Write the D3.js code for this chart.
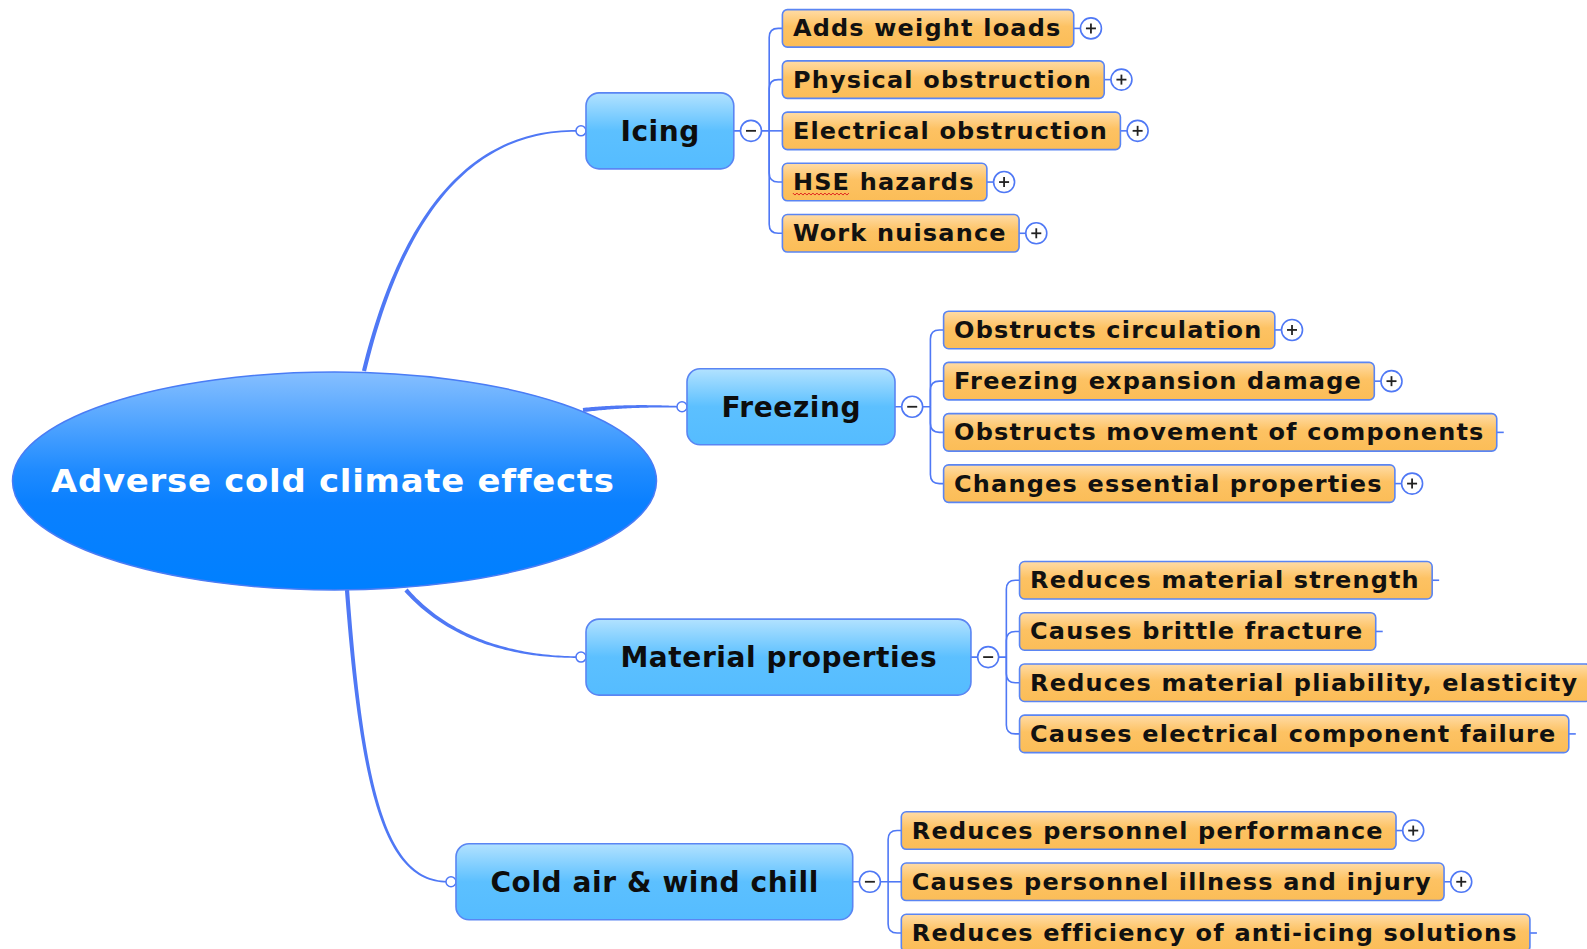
<!DOCTYPE html>
<html><head><meta charset="utf-8">
<script src="https://cdn.jsdelivr.net/npm/d3@7"></script>
<style>
html,body{margin:0;padding:0;background:#fff;}
svg{display:block;}
text{font-family:"DejaVu Sans",Verdana,sans-serif;font-weight:bold;}
</style></head>
<body>
<svg id="chart" width="1587" height="949"></svg>
<script>
// ---------- data ----------
const rootLabel = "Adverse cold climate effects";
const topics = ["Icing", "Freezing", "Material properties", "Cold air & wind chill"];
const icingItems = ["Adds weight loads", "Physical obstruction", "Electrical obstruction", "HSE hazards", "Work nuisance"];
const icingPlus = [true, true, true, true, true];
const freezingItems = ["Obstructs circulation", "Freezing expansion damage", "Obstructs movement of components", "Changes essential properties"];
const freezingPlus = [true, true, false, true];
const materialItems = ["Reduces material strength", "Causes brittle fracture", "Reduces material pliability, elasticity", "Causes electrical component failure"];
const materialPlus = [false, false, false, false];
const coldItems = ["Reduces personnel performance", "Causes personnel illness and injury", "Reduces efficiency of anti-icing solutions"];
const coldPlus = [true, true, false];
const spellFlag = ["HSE"];

// ---------- layout ----------
const W = 1587, H = 949;
const svg = d3.select("#chart");
const defs = svg.append("defs");

function vGrad(id, stops) {
  const g = defs.append("linearGradient").attr("id", id).attr("x1", 0).attr("y1", 0).attr("x2", 0).attr("y2", 1);
  stops.forEach(s => g.append("stop").attr("offset", s[0]).attr("stop-color", s[1]));
}
vGrad("gRoot", [[0, "#86bfff"], [0.45, "#1f8bff"], [0.6, "#0a80ff"], [1, "#0080ff"]]);
vGrad("gTopic", [[0, "#b2e2ff"], [0.5, "#5cc0ff"], [1, "#55bcff"]]);
vGrad("gSub", [[0, "#ffdca6"], [0.45, "#fdc263"], [1, "#fbbd57"]]);

const lineCol = "#4f78f5";
const boxStroke = "#5a85f3";

const groups = [
  {items: icingItems, plus: icingPlus},
  {items: freezingItems, plus: freezingPlus},
  {items: materialItems, plus: materialPlus},
  {items: coldItems, plus: coldPlus}
];

// slot scale: each row is one slot, each new group adds an extra gap
const groupGap = 0.887;
let row = 0;
groups.forEach((g, gi) => {
  g.slots = g.items.map(() => (row++) + gi * groupGap);
});
const lastSlot = groups[3].slots[groups[3].slots.length - 1];
const y = d3.scaleLinear().domain([0, lastSlot]).range([28.4, 933]);

const topicLeft = d3.scaleOrdinal().domain(topics).range([586, 687, 586, 456]);
const root = {cx: 334.5, cy: 481, rx: 322, ry: 109};

// branch curves (root -> topic connector)
const branchCtrl = [
  [[364, 371], [402, 215], [470, 130]],
  [[583, 410], [620, 406], [650, 406]],
  [[406, 590], [450, 640], [515, 657]],
  [[347, 590], [362, 790], [385, 881]]
];

const layerLinks = svg.append("g");
const layerRoot = svg.append("g");
const layerNodes = svg.append("g");

// font styles: [size, letter-spacing, horizontal stretch]
const topicStyle = [28, 0.6, 1.0];
const subStyle = [22.2, 1.1, 1.08];
const rootStyle = [32, 0.7, 1.06];

// measure helper
const measurer = svg.append("text").attr("x", -9999).attr("y", -9999);
function textW(str, st) {
  measurer.attr("font-size", st[0]).attr("letter-spacing", st[1]).text(str);
  return (measurer.node().getComputedTextLength() - st[1]) * st[2];
}
function putText(g, str, x, yc, st, fill) {
  return g.append("text")
    .attr("transform", `translate(${x},${yc}) scale(${st[2]},1)`)
    .attr("dy", "0.36em").attr("font-size", st[0]).attr("letter-spacing", st[1])
    .attr("fill", fill).text(str);
}

const topicH = 76, subH = 37.5;
const padT = 34.4, padS = 10.5;

function taper(p0, c1, c2, p3, w0, w1) {
  const n = 60, left = [], right = [];
  for (let i = 0; i <= n; i++) {
    const t = i / n, mt = 1 - t;
    const x = mt*mt*mt*p0[0] + 3*mt*mt*t*c1[0] + 3*mt*t*t*c2[0] + t*t*t*p3[0];
    const yy = mt*mt*mt*p0[1] + 3*mt*mt*t*c1[1] + 3*mt*t*t*c2[1] + t*t*t*p3[1];
    const dx = 3*mt*mt*(c1[0]-p0[0]) + 6*mt*t*(c2[0]-c1[0]) + 3*t*t*(p3[0]-c2[0]);
    const dy = 3*mt*mt*(c1[1]-p0[1]) + 6*mt*t*(c2[1]-c1[1]) + 3*t*t*(p3[1]-c2[1]);
    const len = Math.hypot(dx, dy) || 1;
    const nx = -dy / len, ny = dx / len;
    const w = (w0 + (w1 - w0) * t) / 2;
    left.push([x + nx*w, yy + ny*w]);
    right.push([x - nx*w, yy - ny*w]);
  }
  return d3.line()(left.concat(right.reverse())) + "Z";
}

function circleBtn(g, cx, cy, sign) {
  g.append("circle").attr("cx", cx).attr("cy", cy).attr("r", 10.5)
    .attr("fill", "#fff").attr("stroke", lineCol).attr("stroke-width", 1.6);
  g.append("line").attr("x1", cx - 5).attr("x2", cx + 5).attr("y1", cy).attr("y2", cy)
    .attr("stroke", "#222").attr("stroke-width", 1.8);
  if (sign === "+") {
    g.append("line").attr("x1", cx).attr("x2", cx).attr("y1", cy - 5).attr("y2", cy + 5)
      .attr("stroke", "#222").attr("stroke-width", 1.8);
  }
}

topics.forEach((name, ti) => {
  const g = groups[ti];
  const ys = g.slots.map(s => y(s));
  const ty = d3.mean([ys[0], ys[ys.length - 1]]);
  const tx = topicLeft(name);
  const tw = textW(name, topicStyle) + 2 * padT;

  // branch from root
  const bc = branchCtrl[ti];
  const endPt = [tx - 9, ty];
  layerLinks.append("path").attr("d", taper(bc[0], bc[1], bc[2], endPt, 4.2, 1.6)).attr("fill", lineCol);
  layerNodes.append("circle").attr("cx", tx - 5).attr("cy", ty).attr("r", 5)
    .attr("fill", "#fff").attr("stroke", lineCol).attr("stroke-width", 1.5);

  // topic box
  layerNodes.append("rect").attr("x", tx).attr("y", ty - topicH / 2).attr("width", tw).attr("height", topicH)
    .attr("rx", 13).attr("fill", "url(#gTopic)").attr("stroke", boxStroke).attr("stroke-width", 1.6);
  putText(layerNodes, name, tx + padT, ty, topicStyle, "#0d0d0d");

  const right = tx + tw;
  const cxm = right + 17.2, bx = right + 35.4, childX = right + 48.6;
  layerLinks.append("line").attr("x1", right).attr("x2", bx).attr("y1", ty).attr("y2", ty)
    .attr("stroke", lineCol).attr("stroke-width", 1.6);
  circleBtn(layerNodes, cxm, ty, "-");
  const rc = 9;
  ys.forEach(cy => {
    let d;
    if (Math.abs(cy - ty) < 1) d = `M${bx},${ty}L${childX},${cy}`;
    else {
      const s = cy < ty ? 1 : -1;
      d = `M${bx},${ty}L${bx},${cy + s * rc}Q${bx},${cy} ${bx + rc},${cy}L${childX},${cy}`;
    }
    layerLinks.append("path").attr("d", d).attr("fill", "none").attr("stroke", lineCol).attr("stroke-width", 1.6);
  });

  // sub-topic boxes
  g.items.forEach((it, i) => {
    const cy = ys[i];
    const w = textW(it, subStyle) + padS + 13.5;
    layerNodes.append("rect").attr("x", childX).attr("y", cy - subH / 2).attr("width", w).attr("height", subH)
      .attr("rx", 5).attr("fill", "url(#gSub)").attr("stroke", boxStroke).attr("stroke-width", 1.6);
    const t = putText(layerNodes, it, childX + padS, cy, subStyle, "#111");
    const bxr = childX + w;
    layerLinks.append("line").attr("x1", bxr).attr("x2", bxr + 7).attr("y1", cy).attr("y2", cy)
      .attr("stroke", lineCol).attr("stroke-width", 1.6);
    if (g.plus[i]) circleBtn(layerNodes, bxr + 17.2, cy, "+");
    spellFlag.forEach(word => {
      if (it.indexOf(word) === 0) {
        const sw = (t.node().getSubStringLength(0, word.length) - subStyle[1]) * subStyle[2];
        const x0 = childX + padS, yb = cy + subStyle[0] * 0.36 + 3;
        const pts = [];
        for (let x = 0; x <= sw; x += 2) pts.push([x0 + x, yb + ((x / 2) % 2 === 0 ? 0 : 2)]);
        layerNodes.append("path").attr("d", d3.line()(pts)).attr("fill", "none")
          .attr("stroke", "#e02020").attr("stroke-width", 1);
      }
    });
  });
});

// root ellipse
layerRoot.append("ellipse").attr("cx", root.cx).attr("cy", root.cy).attr("rx", root.rx).attr("ry", root.ry)
  .attr("fill", "url(#gRoot)").attr("stroke", "#4a7cf5").attr("stroke-width", 1.5);
const rw = textW(rootLabel, rootStyle);
putText(layerRoot, rootLabel, root.cx - 2 - rw / 2, root.cy - 0.5, rootStyle, "#fff");
svg.node().appendChild(layerNodes.node());
measurer.remove();
</script>
</body></html>
